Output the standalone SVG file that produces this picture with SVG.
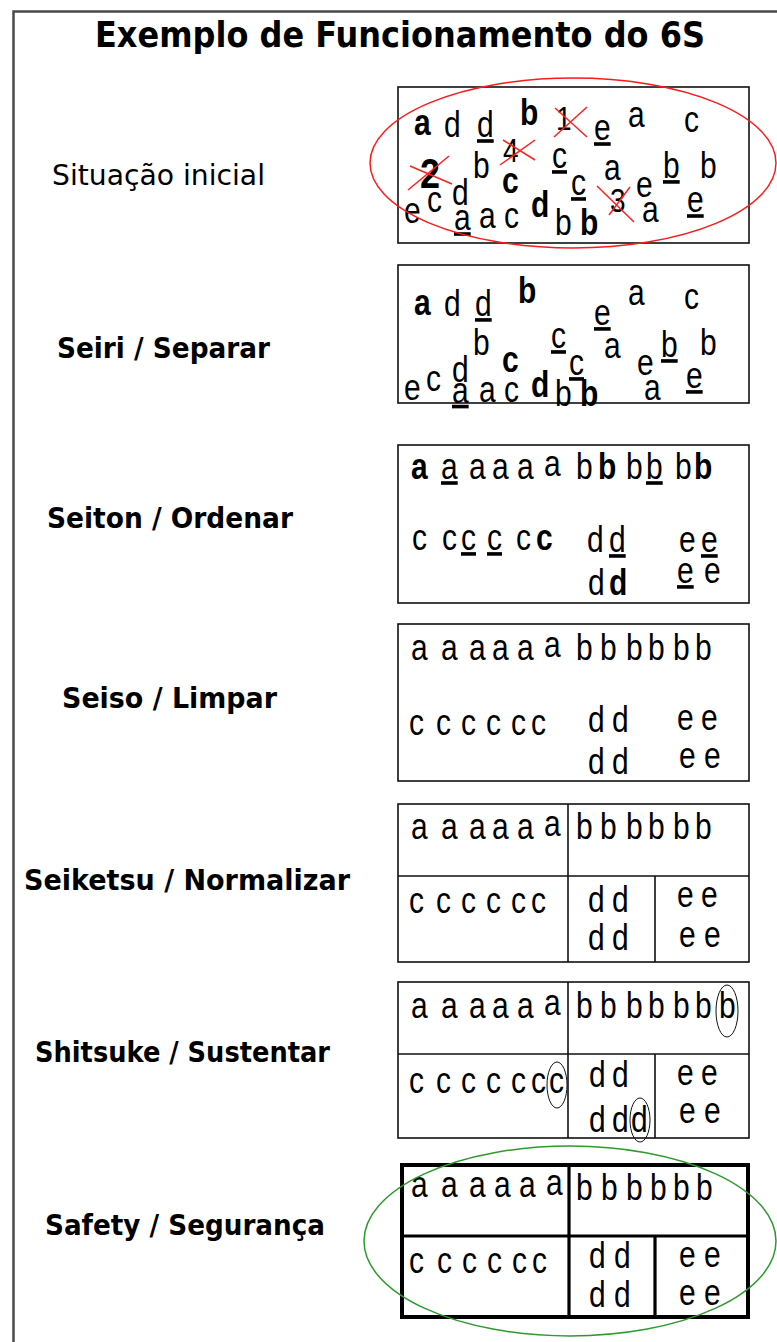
<svg xmlns="http://www.w3.org/2000/svg" width="777" height="1342" viewBox="0 0 777 1342">
<style>
.frame{fill:none;stroke:#4a4a4a;stroke-width:2.5}
.box{fill:none;stroke:#111;stroke-width:1.6}
.tbox{fill:none;stroke:#000;stroke-width:4}
.div{stroke:#111;stroke-width:1.6}
.tdiv{stroke:#000;stroke-width:3.2}
.L{font-family:"Liberation Sans",Arial,sans-serif;font-size:30px;fill:#000}
.B{font-weight:bold}
.U{text-decoration:underline}
.dig{font-size:28px}
.big{font-size:36px;font-weight:bold}
.x{stroke:#ff2020;stroke-width:1.5}
.lab{font-family:"DejaVu Sans",Verdana,sans-serif;font-size:22px;fill:#000}
.lb{font-weight:bold}
.title{font-family:"DejaVu Sans",Verdana,sans-serif;font-size:30px;font-weight:bold;fill:#000}
.ring{fill:none;stroke:#111;stroke-width:1}
</style>
<rect x="0" y="0" width="777" height="1342" fill="#fff"/>
<path class="frame" d="M13.5,1342 V11.5 H777"/>
<g id="title" transform="translate(95,47) scale(1,1.2)"><text class="title" x="0" y="0" textLength="610" lengthAdjust="spacingAndGlyphs">Exemplo de Funcionamento do 6S</text></g>

<g id="step-situacao-inicial">
<g transform="translate(52,185) scale(1,1.25)"><text class="lab" x="0" y="0" textLength="213" lengthAdjust="spacingAndGlyphs">Situação inicial</text></g>
<rect class="box" x="398" y="87" width="351" height="156"/>
<g class="L" transform="scale(1,1.2)">
<text x="414" y="112.5" class="B">a</text>
<text x="444" y="114.2">d</text>
<text x="477" y="114.2" class="U">d</text>
<text x="520" y="104.2" class="B">b</text>
<text x="556" y="108.3" class="dig">1</text>
<text x="594" y="116.7" class="U">e</text>
<text x="628" y="105.8">a</text>
<text x="684" y="110">c</text>
<text x="420" y="156.7" class="big">2</text>
<text x="473" y="148.3">b</text>
<text x="503" y="135" class="dig">4</text>
<text x="552" y="140" class="U">c</text>
<text x="604" y="150">a</text>
<text x="663" y="148.3" class="U">b</text>
<text x="700" y="148.3">b</text>
<text x="404" y="185.8">e</text>
<text x="427" y="176.7">c</text>
<text x="452" y="170.8">d</text>
<text x="502" y="160.8" class="B">c</text>
<text x="571" y="162.5" class="U">c</text>
<text x="610" y="176.7" class="dig">3</text>
<text x="636" y="164.2">e</text>
<text x="642" y="185">a</text>
<text x="687" y="176.7" class="U">e</text>
<text x="454" y="191.7" class="U">a</text>
<text x="479" y="190">a</text>
<text x="504" y="190">c</text>
<text x="531" y="180.8" class="B">d</text>
<text x="555" y="195.8">b</text>
<text x="580" y="195.8" class="B">b</text>
</g>
<path class="x" d="M555,108 L587,137 M587,107 L554,137 M500,165 L535,140 M503,140 L535,160 M408,190 L449,156 M410,166 L452,184 M597,186 L634,222 M630,187 L609,215"/>
<ellipse cx="573" cy="163" rx="203" ry="85" fill="none" stroke="#ff1a1a" stroke-width="1.5"/>
</g>

<g id="step-seiri">
<g transform="translate(57,358) scale(1,1.25)"><text class="lab lb" x="0" y="0" textLength="213" lengthAdjust="spacingAndGlyphs">Seiri / Separar</text></g>
<rect class="box" x="398" y="265" width="351" height="138"/>
<g class="L" transform="scale(1,1.2)">
<text x="414" y="262.5" class="B">a</text>
<text x="444" y="263.3">d</text>
<text x="475" y="263.3" class="U">d</text>
<text x="518" y="252.5" class="B">b</text>
<text x="594" y="270.8" class="U">e</text>
<text x="628" y="254.2">a</text>
<text x="684" y="257.5">c</text>
<text x="473" y="295.8">b</text>
<text x="551" y="290" class="U">c</text>
<text x="604" y="298.3">a</text>
<text x="661" y="297.5" class="U">b</text>
<text x="700" y="295.8">b</text>
<text x="502" y="310" class="B">c</text>
<text x="569" y="312.5" class="U">c</text>
<text x="637" y="312.5">e</text>
<text x="404" y="333.3">e</text>
<text x="426" y="325.8">c</text>
<text x="452" y="318.5">d</text>
<text x="452" y="335.5" class="U">a</text>
<text x="479" y="335">a</text>
<text x="504" y="335">c</text>
<text x="531" y="330.8" class="B">d</text>
<text x="555" y="338">b</text>
<text x="580" y="338" class="B">b</text>
<text x="644" y="333.3">a</text>
<text x="686" y="323.3" class="U">e</text>
</g>
</g>

<g id="step-seiton">
<g transform="translate(47,528) scale(1,1.25)"><text class="lab lb" x="0" y="0" textLength="246" lengthAdjust="spacingAndGlyphs">Seiton / Ordenar</text></g>
<rect class="box" x="398" y="445" width="351" height="158"/>
<g class="L" transform="scale(1,1.2)">
<text x="411 428 441 457 469 485 492 508 517 533 544" y="399.2 399.2 399.2 399.2 399.2 399.2 399.2 399.2 399.2 399.2 396.7"><tspan class="B">a</tspan> <tspan class="U">a</tspan> a a a a</text>
<text x="576 592 598 616 626 642 646 664 675 692 694" y="399.2">b <tspan class="B">b</tspan> b <tspan class="U">b</tspan> b <tspan class="B">b</tspan></text>
<text x="412 428 442 457 461 477 487 503 516 532 536" y="458.3">c c <tspan class="U">c</tspan> <tspan class="U">c</tspan> c <tspan class="B">c</tspan></text>
<text x="587 609" y="460">d<tspan class="U">d</tspan></text>
<text x="679 701" y="460">e<tspan class="U">e</tspan></text>
<text x="588 609" y="496">d<tspan class="B">d</tspan></text>
<text x="677 704" y="485.8"><tspan class="U">e</tspan>e</text>
</g>
</g>

<g id="step-seiso">
<g transform="translate(62,708) scale(1,1.25)"><text class="lab lb" x="0" y="0" textLength="215" lengthAdjust="spacingAndGlyphs">Seiso / Limpar</text></g>
<rect class="box" x="398" y="624" width="351" height="157"/>
<g class="L" transform="scale(1,1.2)">
<text x="411 427 441 457 469 485 492 508 517 533 544" y="550 550 550 550 550 550 550 550 550 550 547.5">a a a a a a</text>
<text x="576 592 600 616 626 642 648 664 673 689 695" y="550">b b b b b b</text>
<text x="409 424 436 451 461 476 486 501 511 526 531" y="612.5">c c c c c c</text>
<text x="588 604 612" y="610">d d</text>
<text x="677 693 701" y="608.3">e e</text>
<text x="588 604 612" y="645">d d</text>
<text x="679 695 704" y="640">e e</text>
</g>
</g>

<g id="step-seiketsu">
<g transform="translate(24,890) scale(1,1.25)"><text class="lab lb" x="0" y="0" textLength="326" lengthAdjust="spacingAndGlyphs">Seiketsu / Normalizar</text></g>
<rect class="box" x="398" y="804" width="351" height="158"/>
<path class="div" d="M398,876 H749 M568,804 V962 M655,876 V962"/>
<g class="L" transform="scale(1,1.2)">
<text x="411 427 441 457 469 485 492 508 517 533 544" y="699.2 699.2 699.2 699.2 699.2 699.2 699.2 699.2 699.2 699.2 696.7">a a a a a a</text>
<text x="576 592 600 616 626 642 648 664 673 689 695" y="699.2">b b b b b b</text>
<text x="409 424 436 451 461 476 486 501 511 526 531" y="760.8">c c c c c c</text>
<text x="588 604 612" y="760">d d</text>
<text x="677 693 701" y="755.8">e e</text>
<text x="588 604 612" y="791.7">d d</text>
<text x="679 695 704" y="789.2">e e</text>
</g>
</g>

<g id="step-shitsuke">
<g transform="translate(35,1062) scale(1,1.25)"><text class="lab lb" x="0" y="0" textLength="295" lengthAdjust="spacingAndGlyphs">Shitsuke / Sustentar</text></g>
<rect class="box" x="398" y="982" width="351" height="156"/>
<path class="div" d="M398,1054 H749 M568,982 V1138 M655,1054 V1138"/>
<g class="L" transform="scale(1,1.2)">
<text x="411 427 441 457 469 485 492 508 517 533 544" y="848.3 848.3 848.3 848.3 848.3 848.3 848.3 848.3 848.3 848.3 845.8">a a a a a a</text>
<text x="576 592 600 616 626 642 648 664 673 689 695 719" y="848.3">b b b b b bb</text>
<text x="409 424 436 451 461 476 486 501 511 526 531 549" y="910.8">c c c c c cc</text>
<text x="589 605 612" y="905.8">d d</text>
<text x="677 693 701" y="904.2">e e</text>
<text x="589 605 612 631" y="943.3">d dd</text>
<text x="679 695 704" y="935.8">e e</text>
</g>
<ellipse class="ring" cx="727" cy="1011" rx="11" ry="26"/>
<ellipse class="ring" cx="557" cy="1085" rx="10" ry="23"/>
<ellipse class="ring" cx="640" cy="1120" rx="10" ry="22"/>
</g>

<g id="step-safety">
<g transform="translate(45,1235) scale(1,1.25)"><text class="lab lb" x="0" y="0" textLength="280" lengthAdjust="spacingAndGlyphs">Safety / Segurança</text></g>
<rect class="tbox" x="402" y="1165" width="346" height="152"/>
<path class="tdiv" d="M402,1236 H748 M569,1165 V1317 M655,1236 V1317"/>
<g class="L" transform="scale(1,1.2)">
<text x="411 427 441 457 469 485 494 510 519 535 546" y="997.5 997.5 997.5 997.5 997.5 997.5 997.5 997.5 997.5 997.5 995.8">a a a a a a</text>
<text x="576 592 601 617 626 642 650 666 673 689 696" y="1000">b b b b b b</text>
<text x="409 424 437 452 462 477 487 502 512 527 532" y="1060.8">c c c c c c</text>
<text x="589 605 614" y="1056.7">d d</text>
<text x="679 695 704" y="1055.8">e e</text>
<text x="589 605 614" y="1089.2">d d</text>
<text x="679 695 704" y="1087.5">e e</text>
</g>
<ellipse cx="570" cy="1241" rx="206" ry="95" fill="none" stroke="#2e9a2e" stroke-width="1.5"/>
</g>
</svg>
